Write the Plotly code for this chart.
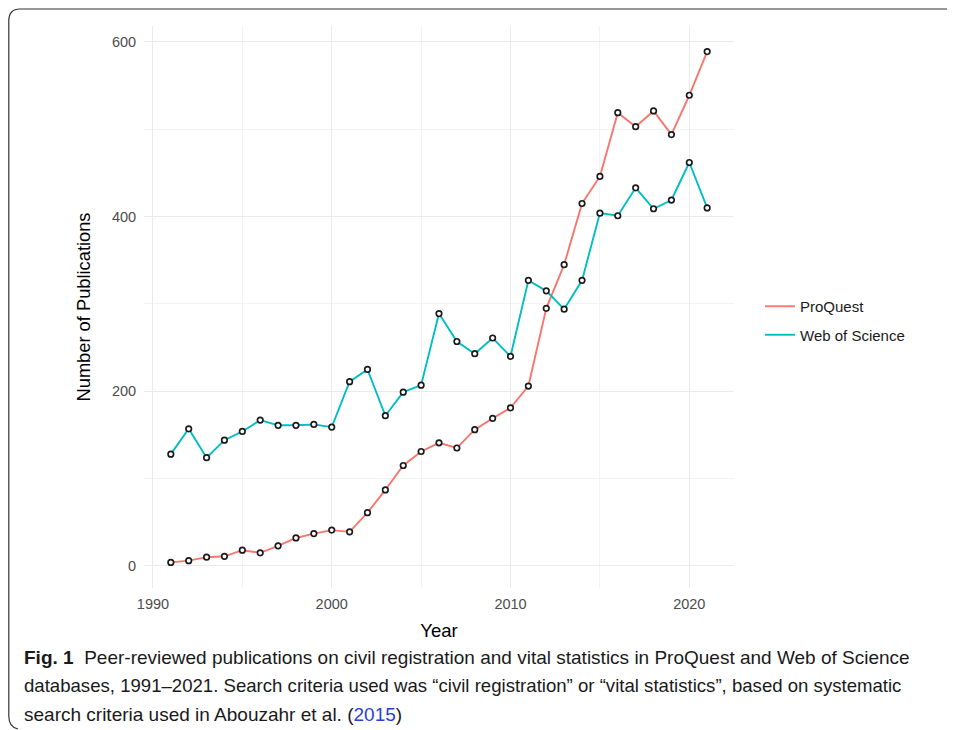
import plotly.graph_objects as go

years = list(range(1991, 2022))
proquest = [4, 6, 10, 11, 18, 15, 23, 32, 37, 41, 39, 61, 87, 115, 131, 141, 135, 156, 169, 181,
            206, 295, 345, 415, 446, 519, 503, 521, 494, 539, 589]
wos = [128, 157, 124, 144, 154, 167, 161, 161, 162, 159, 211, 225, 172, 199, 207, 289, 257, 243, 261, 240,
       327, 315, 294, 327, 404, 401, 433, 409, 419, 462, 410]
series_names = ["ProQuest", "Web of Science"]
series_colors = ["#F8766D", "#00BFC4"]
x_ticks = [1990, 2000, 2010, 2020]
y_ticks = [0, 200, 400, 600]
caption_lines = [
    "<b>Fig. 1</b>  Peer-reviewed publications on civil registration and vital statistics in ProQuest and Web of Science",
    "databases, 1991–2021. Search criteria used was “civil registration” or “vital statistics”, based on systematic",
    "search criteria used in Abouzahr et al. (<span style='color:#2a3fd6'>2015</span>)",
]
caption_sizes = [19, 18.6, 19]

# page has an 8px body margin; figure coordinates = screen - 8
W, H = 947, 722
L, R, T, B = 136, 726, 18, 580

fig = go.Figure()
for name, vals, col, grp in zip(series_names, [proquest, wos], series_colors, ["a", "b"]):
    fig.add_trace(go.Scatter(x=years, y=vals, mode="lines", name=name, legendgroup=grp,
                             line=dict(color=col, width=1.9)))
for vals in [proquest, wos]:
    fig.add_trace(go.Scatter(x=years, y=vals, mode="markers", showlegend=False, hoverinfo="skip",
                             marker=dict(symbol="circle", size=5.5, color="white",
                                         line=dict(color="#1a1a1a", width=1.7))))

def px(x):
    return (x - L) / (R - L)

def py(y):
    return (B - y) / (B - T)

# figure border (rounded corner frame)
path = (f"M {px(960)},{py(1)} L {px(12)},{py(1)} Q {px(0.8)},{py(1)} {px(0.8)},{py(13)} "
        f"L {px(0.8)},{py(708)} Q {px(0.8)},{py(719)} {px(10)},{py(721)}")

annotations = []
for i, (line, sz) in enumerate(zip(caption_lines, caption_sizes)):
    annotations.append(dict(text=line, xref="paper", yref="paper", x=px(14), y=py(649 + 28.5 * i),
                            xanchor="left", yanchor="middle", align="left", showarrow=False,
                            font=dict(family="Liberation Sans, Arial, sans-serif", size=sz, color="#1a1a1a")))

fig.update_layout(
    width=W, height=H,
    margin=dict(l=L, r=W - R, t=T, b=H - B),
    paper_bgcolor="white", plot_bgcolor="white",
    font=dict(family="Liberation Sans, Arial, sans-serif", color="#000000"),
    xaxis=dict(range=[1989.5, 2022.5], tickvals=x_ticks, ticks="outside", ticklen=3,
               tickcolor="rgba(0,0,0,0)", tickfont=dict(size=14.5, color="#4D4D4D"),
               showgrid=True, gridcolor="#EBEBEB", gridwidth=1.2, zeroline=False, showline=False,
               minor=dict(tickvals=[1995, 2005, 2015], showgrid=True, gridcolor="#F3F3F3", gridwidth=0.8),
               title=dict(text="Year", font=dict(size=18.5, color="#000000"), standoff=12)),
    yaxis=dict(range=[-25.3, 618.3], tickvals=y_ticks, ticks="outside", ticklen=4,
               tickcolor="rgba(0,0,0,0)", tickfont=dict(size=14.5, color="#4D4D4D"),
               showgrid=True, gridcolor="#EBEBEB", gridwidth=1.2, zeroline=False, showline=False,
               minor=dict(tickvals=[100, 300, 500], showgrid=True, gridcolor="#F3F3F3", gridwidth=0.8),
               title=dict(text="Number of Publications", font=dict(size=18.3, color="#000000"), standoff=16)),
    legend=dict(x=px(752), y=py(282), xanchor="left", yanchor="top", tracegroupgap=6,
                font=dict(size=15, color="#1a1a1a"), bgcolor="rgba(0,0,0,0)"),
    shapes=[dict(type="path", path=path, xref="paper", yref="paper",
                 line=dict(color="#333333", width=1.2))],
    annotations=annotations,
)

fig.write_html("out.html")
